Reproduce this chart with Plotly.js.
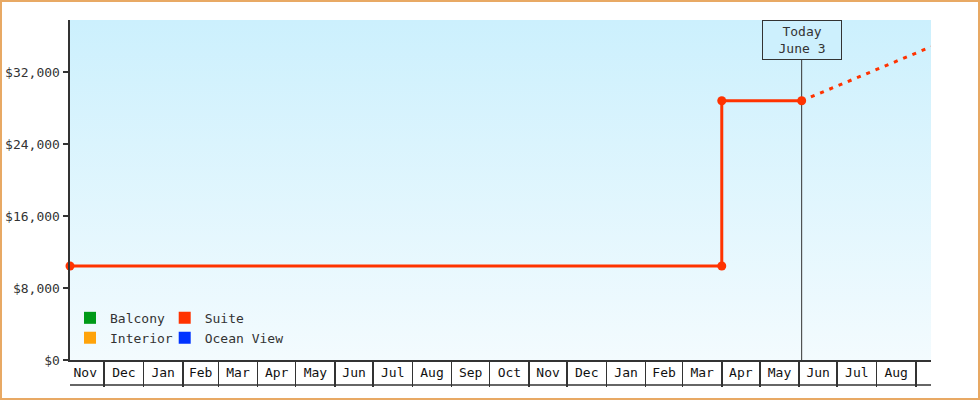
<!DOCTYPE html>
<html>
<head>
<meta charset="utf-8">
<script src="https://cdn.plot.ly/plotly-3.0.1.min.js"></script>
<style>
  body { margin: 0; background: #fff; }
  #wrap { position: relative; width: 980px; height: 400px; }
  #frame { position: absolute; left: 0; top: 0; width: 980px; height: 400px; box-sizing: border-box;
           border: 2px solid #e8a964; pointer-events: none; }
</style>
</head>
<body>
<div id="wrap">
  <div id="chart"></div>
  <div id="frame"></div>
</div>
<script>
// suite fare history (step) and projection after today
var suite_dates = ['2022-11-04', '2024-04-01', '2024-04-01', '2024-06-03'];
var suite_prices = [10450, 10450, 28800, 28800];
var proj_dates = ['2024-06-03', '2024-09-13'];
var proj_prices = [28800, 34800];

var cabin_names = ['Balcony', 'Interior', 'Suite', 'Ocean View'];
var cabin_colors = ['#009a17', '#ffa30a', '#ff3300', '#0033ff'];
var cabin_legend = ['legend', 'legend', 'legend2', 'legend2'];

var today = '2024-06-03';
var x_range = ['2022-11-04', '2024-09-13'];
var y_ticks = [0, 8000, 16000, 24000, 32000];
var y_labels = ['$0', '$8,000', '$16,000', '$24,000', '$32,000'];

var font = 'DejaVu Sans Mono, monospace';

var suite = {
    x: suite_dates,
    y: suite_prices,
    type: 'scatter',
    mode: 'lines+markers',
    line: {color: '#ff3300', width: 3},
    marker: {color: '#ff3300', size: 9},
    cliponaxis: false,
    showlegend: false
};

var projection = {
    x: proj_dates,
    y: proj_prices,
    type: 'scatter',
    mode: 'lines',
    line: {color: '#ff3300', width: 3, dash: '4px,6px'},
    showlegend: false
};

// legend-only entries, one per cabin type
var keys = cabin_names.map(function (name, i) {
    return {
        x: [null],
        y: [null],
        type: 'scatter',
        mode: 'markers',
        name: name,
        legend: cabin_legend[i],
        marker: {color: cabin_colors[i], symbol: 'square', size: 12}
    };
});

var gradient = 'data:image/svg+xml;utf8,' + encodeURIComponent(
    '<svg xmlns="http://www.w3.org/2000/svg" width="100" height="100" preserveAspectRatio="none">' +
    '<defs><linearGradient id="g" x1="0" y1="0" x2="0" y2="1">' +
    '<stop offset="0" stop-color="#ccf0fd"/><stop offset="1" stop-color="#f3fbfe"/>' +
    '</linearGradient></defs><rect width="100" height="100" fill="url(#g)"/></svg>');

var legend_style = {
    font: {family: font, size: 13, color: '#333'},
    bgcolor: 'rgba(0,0,0,0)',
    yanchor: 'top',
    y: 0.168,
    itemclick: false,
    tracegroupgap: 0
};

var layout = {
    width: 980,
    height: 400,
    margin: {l: 70, r: 49, t: 20, b: 40},
    paper_bgcolor: '#fff',
    plot_bgcolor: 'rgba(0,0,0,0)',
    font: {family: font, size: 13, color: '#333'},
    xaxis: {
        type: 'date',
        range: x_range,
        dtick: 'M1',
        tick0: '2022-11-01',
        tickformat: '%b',
        ticklabelmode: 'period',
        ticks: 'outside',
        ticklen: 25,
        tickwidth: 1.5,
        tickcolor: '#333',
        ticklabelstandoff: -26,
        showgrid: false,
        zeroline: false,
        showline: true,
        linecolor: '#333',
        linewidth: 2,
        tickfont: {family: font, size: 13, color: '#111'}
    },
    yaxis: {
        range: [0, 37778],
        tickvals: y_ticks,
        ticktext: y_labels,
        ticks: 'outside',
        ticklen: 5,
        tickwidth: 2,
        tickcolor: '#333',
        showgrid: false,
        zeroline: false,
        showline: true,
        linecolor: '#333',
        linewidth: 2.5,
        tickfont: {family: font, size: 13, color: '#333'}
    },
    images: [{
        source: gradient,
        xref: 'paper', yref: 'paper',
        x: 0, y: 1, sizex: 1, sizey: 1,
        xanchor: 'left', yanchor: 'top',
        sizing: 'stretch',
        layer: 'below'
    }],
    shapes: [
        {type: 'line', xref: 'x', yref: 'paper', x0: today, x1: today, y0: 0, y1: 1,
         line: {color: '#333', width: 1}, layer: 'below'},
        {type: 'line', xref: 'paper', yref: 'paper', x0: 0, x1: 1, y0: -25 / 340, y1: -25 / 340,
         line: {color: '#333', width: 1.5}}
    ],
    annotations: [{
        x: today, xref: 'x',
        y: 1, yref: 'paper', yanchor: 'top',
        text: 'Today<br>June 3',
        showarrow: false,
        font: {family: font, size: 13, color: '#333'},
        bgcolor: '#cdf0fd',
        bordercolor: '#333',
        borderwidth: 1,
        width: 76,
        height: 36
    }],
    legend: Object.assign({x: 0.0}, legend_style),
    legend2: Object.assign({x: 0.11}, legend_style)
};

Plotly.newPlot('chart', [suite, projection].concat(keys), layout, {staticPlot: true});
</script>
</body>
</html>
